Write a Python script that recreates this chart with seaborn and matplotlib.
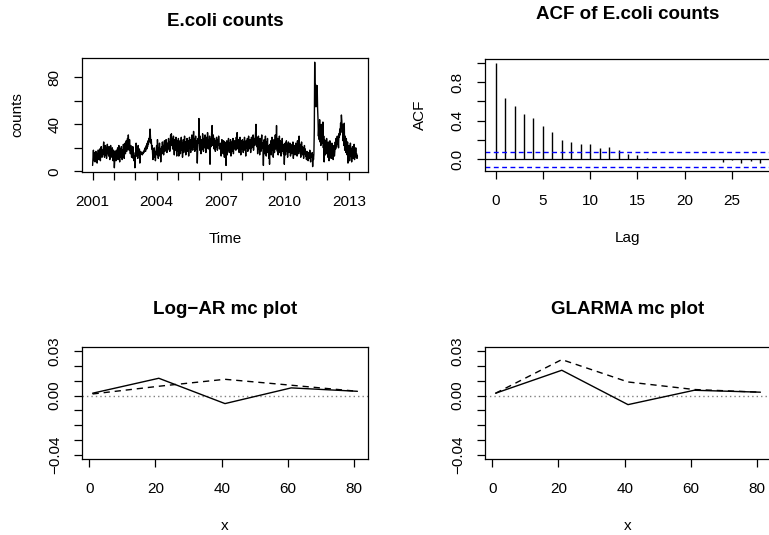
import numpy as np
import pandas as pd
import matplotlib
matplotlib.use("Agg")
import matplotlib.pyplot as plt
import seaborn as sns

# ---------------- data ----------------
ts_start = 2001
ts_freq = 52
counts = [
    # 2001
    5, 12, 18, 9, 14, 16, 8, 13, 17, 11, 15, 7, 12, 18, 14, 10, 16, 19, 13, 9, 17, 21, 15, 12, 18, 14,
    20, 25, 16, 12, 19, 22, 14, 17, 11, 20, 23, 15, 18, 13, 21, 16, 10, 19, 22, 14, 17, 12, 20, 15, 9, 18,
    # 2002
    14, 3, 11, 17, 13, 9, 18, 12, 15, 20, 10, 16, 22, 13, 8, 17, 19, 12, 21, 15, 10, 18, 14, 23, 16, 11,
    19, 24, 15, 20, 26, 17, 22, 28, 19, 31, 24, 18, 27, 20, 15, 22, 17, 12, 19, 14, 21, 11, 16, 9, 13, 3,
    # 2003
    10, 18, 24, 13, 20, 16, 11, 22, 17, 14, 19, 7, 15, 17, 15, 16, 15, 14, 16, 15, 17, 16, 18, 19, 20, 17,
    21, 22, 19, 24, 21, 26, 23, 28, 25, 30, 36, 29, 24, 27, 19, 22, 16, 10, 18, 14, 20, 12, 17, 9, 15, 19,
    # 2004
    22, 14, 27, 18, 11, 20, 16, 24, 13, 19, 8, 17, 21, 15, 25, 18, 22, 14, 20, 26, 17, 23, 19, 27, 21, 16,
    24, 18, 22, 28, 20, 25, 17, 23, 31, 26, 32, 22, 28, 19, 25, 30, 21, 14, 27, 18, 24, 29, 20, 13, 26, 22,
    # 2005
    17, 28, 13, 23, 19, 26, 15, 21, 29, 18, 24, 12, 20, 27, 16, 22, 30, 19, 25, 14, 23, 18, 28, 21, 17, 26,
    13, 22, 29, 20, 24, 16, 27, 19, 31, 23, 18, 25, 34, 21, 28, 17, 24, 30, 19, 26, 22, 7, 20, 28, 24, 45,
    # 2006
    26, 18, 30, 21, 15, 27, 23, 19, 32, 24, 17, 28, 20, 25, 31, 22, 16, 29, 24, 20, 33, 26, 19, 27, 22, 30,
    6, 24, 28, 21, 33, 39, 27, 22, 31, 25, 19, 28, 23, 17, 26, 21, 29, 24, 18, 27, 22, 30, 25, 19, 23, 21,
    # 2007
    24, 13, 21, 27, 18, 23, 15, 26, 20, 12, 25, 17, 22, 5, 19, 26, 14, 23, 18, 28, 21, 16, 24, 19, 27, 13,
    22, 25, 17, 21, 28, 15, 23, 19, 26, 20, 24, 18, 29, 22, 33, 25, 19, 27, 21, 16, 24, 29, 20, 14, 23, 26,
    # 2008
    19, 27, 22, 16, 25, 21, 29, 18, 24, 13, 26, 20, 23, 28, 17, 22, 30, 19, 25, 21, 27, 16, 24, 29, 20, 26,
    23, 31, 18, 25, 28, 22, 27, 33, 40, 26, 21, 29, 15, 24, 30, 19, 25, 14, 28, 22, 17, 26, 31, 20, 24, 18,
    # 2009
    5, 21, 27, 15, 24, 30, 18, 13, 25, 20, 28, 16, 22, 11, 19, 6, 23, 17, 26, 14, 21, 29, 18, 24, 12, 20,
    27, 16, 23, 31, 19, 25, 39, 22, 17, 28, 14, 24, 20, 30, 16, 26, 21, 13, 25, 19, 28, 17, 23, 15, 22, 6,
    # 2010
    19, 24, 14, 21, 26, 17, 23, 12, 20, 25, 16, 22, 18, 24, 13, 21, 19, 15, 23, 17, 25, 11, 20, 18, 22, 14,
    19, 24, 16, 21, 13, 26, 18, 22, 15, 30, 20, 17, 23, 12, 19, 25, 16, 21, 14, 20, 11, 18, 22, 15, 19, 13,
    # 2011
    14, 10, 17, 12, 15, 9, 16, 13, 11, 18, 12, 8, 15, 13, 12, 16, 4, 14, 10, 15, 35, 93, 60, 74, 55, 72,
    58, 73, 54, 45, 30, 38, 27, 44, 25, 33, 22, 40, 29, 35, 24, 42, 20, 30, 8, 27, 23, 14, 26, 19, 28, 15,
    # 2012
    22, 12, 25, 17, 9, 20, 26, 15, 21, 11, 18, 24, 14, 19, 10, 16, 22, 13, 17, 25, 19, 28, 21, 26, 30, 23,
    27, 20, 32, 29, 36, 31, 41, 37, 48, 43, 33, 40, 26, 36, 22, 41, 18, 30, 24, 16, 28, 20, 14, 25, 7, 18,
    # 2013
    12, 22, 9, 17, 24, 13, 19, 8, 15, 21, 11, 18, 14, 23, 10, 16, 13, 20, 12, 15, 11, 13,
]

acf_lags = list(range(0, 29))
acf_vals = [1.0, 0.63, 0.555, 0.472, 0.428, 0.348, 0.279, 0.204, 0.183, 0.159,
            0.159, 0.114, 0.124, 0.093, 0.059, 0.047, 0.015, 0.006, 0.005, 0.007,
            0.004, 0.005, 0.003, 0.006, -0.03, -0.01, -0.035, -0.02, -0.035]

mc_x = [1, 21, 41, 61, 81]
logar_solid = [0.0016, 0.0117, -0.0054, 0.0052, 0.0029]
logar_dashed = [0.0011, 0.0063, 0.0110, 0.0070, 0.0029]
glarma_solid = [0.0016, 0.0171, -0.0061, 0.0036, 0.0023]
glarma_dashed = [0.0016, 0.0243, 0.0092, 0.0041, 0.0023]
mc_ylim = (-0.04, 0.03)

# ---------------- style ----------------
sns.set_theme(style="ticks")
plt.rcParams['font.family'] = ['Liberation Sans', 'DejaVu Sans']
plt.rcParams['axes.unicode_minus'] = True

W, H = 769, 535
fig = plt.figure(figsize=(W / 100, H / 100), dpi=100)
fig.patch.set_facecolor('white')


def add_ax(x0, y0, x1, y1):
    return fig.add_axes([x0 / W, 1 - y1 / H, (x1 - x0) / W, (y1 - y0) / H])


def r_range(vals):
    lo, hi = min(vals), max(vals)
    e = (hi - lo) * 0.04
    return lo - e, hi + e


def style(ax, title, title_off, xlabel, ylabel):
    ax.set_facecolor('white')
    for s in ax.spines.values():
        s.set_visible(True)
        s.set_color('black')
        s.set_linewidth(0.9)
    ax.tick_params(axis='both', direction='out', length=5.5, width=0.9, color='black',
                   labelsize=11, labelcolor='black')
    ax.tick_params(axis='x', pad=11)
    ax.tick_params(axis='y', pad=9, labelrotation=90)
    for lab in ax.get_yticklabels():
        lab.set_va('center')
        lab.set_ha('right')
    h_px = ax.get_position().height * H
    w_px = ax.get_position().width * W
    ax.text(0.5, 1 + title_off / h_px, title, transform=ax.transAxes, ha='center', va='center',
            fontsize=13.5, fontweight='bold', color='black')
    ax.set_xlabel(xlabel, fontsize=11, color='black')
    ax.set_ylabel(ylabel, fontsize=11, color='black')
    ax.xaxis.set_label_coords(0.5, -67 / h_px)
    ax.xaxis.label.set_va('center')
    ax.yaxis.set_label_coords(-65 / w_px, 0.5)
    ax.yaxis.label.set_va('center')
    ax.grid(False)


# ---------------- panel 1: time series ----------------
ax1 = add_ax(82, 58, 368, 172)
t = ts_start + np.arange(len(counts)) / ts_freq
df_ts = pd.DataFrame({'Time': t, 'counts': counts})
sns.lineplot(data=df_ts, x='Time', y='counts', ax=ax1, color='black', lw=1.0)
years = list(range(2001, 2014))
ax1.set_xticks(years)
ax1.set_xticklabels([str(y) if (y - 2001) % 3 == 0 else '' for y in years])
yt = [0, 20, 40, 60, 80]
ax1.set_yticks(yt)
ax1.set_yticklabels(['0', '', '40', '', '80'])
ax1.set_xlim(*r_range(list(t)))
ax1.set_ylim(*r_range(counts))
style(ax1, 'E.coli counts', 37, 'Time', 'counts')

# ---------------- panel 2: ACF ----------------
ax2 = add_ax(485, 58.5, 771, 171)
n = len(counts)
clim = 1.96 / np.sqrt(n)
ax2.vlines(acf_lags, 0, acf_vals, color='black', lw=1.0)
ax2.axhline(0, color='black', lw=0.9)
ax2.axhline(clim, color='blue', lw=1.0, ls=(0, (3.5, 2.5)))
ax2.axhline(-clim, color='blue', lw=1.0, ls=(0, (3.5, 2.5)))
ax2.set_xticks([0, 5, 10, 15, 20, 25])
ax2.set_yticks([0, 0.2, 0.4, 0.6, 0.8, 1.0])
ax2.set_yticklabels(['0.0', '', '0.4', '', '0.8', ''])
ax2.set_xlim(*r_range(acf_lags))
ax2.set_ylim(*r_range(acf_vals + [clim, -clim]))
style(ax2, 'ACF of E.coli counts', 44, 'Lag', 'ACF')

# ---------------- panels 3 & 4: mc plots ----------------
def mc_panel(ax, solid, dashed, title):
    ax.axhline(0, color='gray', lw=1.0, ls=(0, (1, 2.2)))
    sns.lineplot(x=mc_x, y=solid, ax=ax, color='black', lw=1.0)
    sns.lineplot(x=mc_x, y=dashed, ax=ax, color='black', lw=1.0, linestyle=(0, (4.5, 3.5)))
    ax.set_xticks([0, 20, 40, 60, 80])
    yt = [-0.04, -0.03, -0.02, -0.01, 0.0, 0.01, 0.02, 0.03]
    ax.set_yticks(yt)
    ax.set_yticklabels(['\u22120.04', '', '', '', '0.00', '', '', '0.03'])
    ax.set_xlim(*r_range(mc_x))
    ax.set_ylim(*r_range(list(mc_ylim)))
    style(ax, title, 37, 'x', '')


ax3 = add_ax(82, 347, 368, 459)
mc_panel(ax3, logar_solid, logar_dashed, 'Log\u2212AR mc plot')
ax4 = add_ax(485, 347, 771, 459)
mc_panel(ax4, glarma_solid, glarma_dashed, 'GLARMA mc plot')

fig.savefig('out.png', dpi=100, facecolor='white')
